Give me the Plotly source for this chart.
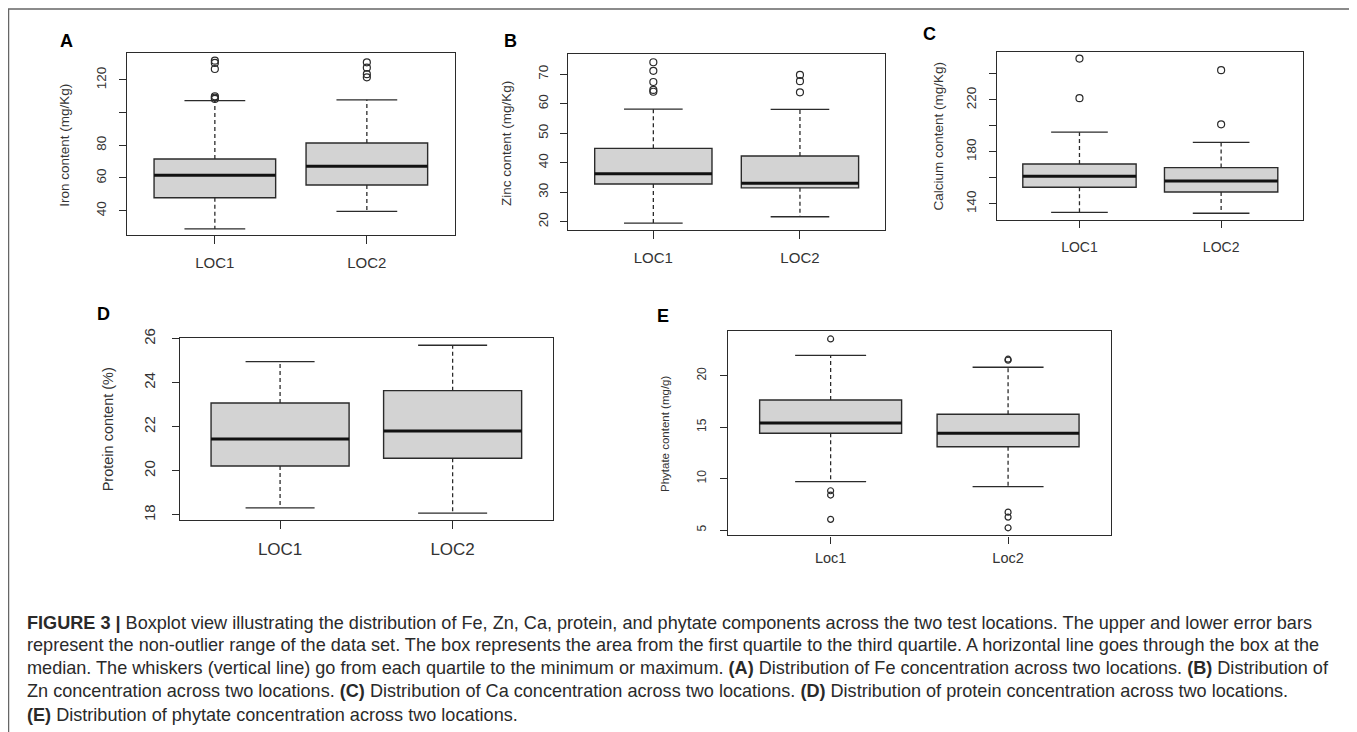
import plotly.graph_objects as go

# Screen size of the photograph, and the 8px offset the page body adds
SW, SH = 1357, 732
OX, OY = 8, 8
W, H = SW - OX, SH - OY

# ---------------- data ----------------
loc_upper = ["LOC1", "LOC2"]
loc_lower = ["Loc1", "Loc2"]

# A: Iron content (mg/Kg)
fe_q1 = [47.9, 55.7]
fe_med = [61.6, 67.1]
fe_q3 = [71.6, 81.4]
fe_lo = [28.8, 39.6]
fe_hi = [107.3, 107.8]
fe_out_loc1 = [131.8, 130.4, 126.7, 110.0, 109.2, 108.4]
fe_out_loc2 = [130.8, 127.5, 123.5, 121.6]

# B: Zinc content (mg/Kg)
zn_q1 = [32.8, 31.5]
zn_med = [36.3, 33.1]
zn_q3 = [44.9, 42.3]
zn_lo = [19.5, 21.7]
zn_hi = [58.2, 58.1]
zn_out_loc1 = [74.1, 71.2, 67.4, 64.7, 64.1]
zn_out_loc2 = [69.8, 67.7, 63.9]

# C: Calcium content (mg/Kg)
ca_q1 = [152.6, 149.0]
ca_med = [161.1, 157.5]
ca_q3 = [170.6, 167.8]
ca_lo = [133.3, 132.6]
ca_hi = [195.1, 187.3]
ca_out_loc1 = [251.9, 221.3]
ca_out_loc2 = [242.9, 201.2]

# D: Protein content (%)
pr_q1 = [20.22, 20.57]
pr_med = [21.45, 21.81]
pr_q3 = [23.08, 23.64]
pr_lo = [18.32, 18.08]
pr_hi = [24.96, 25.70]
pr_out_loc1 = []
pr_out_loc2 = []

# E: Phytate content (mg/g)
ph_q1 = [14.4, 13.1]
ph_med = [15.4, 14.4]
ph_q3 = [17.64, 16.25]
ph_lo = [9.7, 9.21]
ph_hi = [21.98, 20.82]
ph_out_loc1 = [23.57, 8.82, 8.4, 6.04]
ph_out_loc2 = [21.5, 21.6, 6.74, 6.26, 5.22]

# axis ticks
fe_ticks = [40, 60, 80, 100, 120]
fe_ticktext = ["40", "60", "80", "", "120"]
zn_ticks = [20, 30, 40, 50, 60, 70]
zn_ticktext = ["20", "30", "40", "50", "60", "70"]
ca_ticks = [140, 160, 180, 200, 220, 240]
ca_ticktext = ["140", "", "180", "", "220", ""]
pr_ticks = [18, 20, 22, 24, 26]
pr_ticktext = ["18", "20", "22", "24", "26"]
ph_ticks = [5, 10, 15, 20]
ph_ticktext = ["5", "10", "15", "20"]


# ---------------- layout helpers (screen pixel -> paper) ----------------
def px_x(v):
    return (v - OX) / W


def px_y(v):
    return 1 - (v - OY) / H


LINE = "#2b2b2b"
TXT = "#333333"
FILL = "#d3d3d3"
FONT = "Liberation Sans, Arial, sans-serif"

panels = [
    dict(key="", q1=fe_q1, med=fe_med, q3=fe_q3, lo=fe_lo, hi=fe_hi,
         outs=[fe_out_loc1, fe_out_loc2], labels=loc_upper,
         box=(126.7, 455.0, 53.3, 235.0), yr=[25.1, 136.3],
         tv=fe_ticks, tt=fe_ticktext, yfs=13.5, xfs=15, tlx=8, tly=7,
         ystand=7, xstand=6, ms=7),
    dict(key="2", q1=zn_q1, med=zn_med, q3=zn_q3, lo=zn_lo, hi=zn_hi,
         outs=[zn_out_loc1, zn_out_loc2], labels=loc_upper,
         box=(568.3, 885.0, 54.3, 230.0), yr=[17.2, 76.8],
         tv=zn_ticks, tt=zn_ticktext, yfs=13.5, xfs=15, tlx=8, tly=7,
         ystand=7, xstand=6, ms=7),
    dict(key="3", q1=ca_q1, med=ca_med, q3=ca_q3, lo=ca_lo, hi=ca_hi,
         outs=[ca_out_loc1, ca_out_loc2], labels=loc_upper,
         box=(997.3, 1303.3, 52.3, 220.0), yr=[127.4, 256.7],
         tv=ca_ticks, tt=ca_ticktext, yfs=13.5, xfs=14, tlx=7, tly=7,
         ystand=8, xstand=7, ms=7),
    dict(key="4", q1=pr_q1, med=pr_med, q3=pr_q3, lo=pr_lo, hi=pr_hi,
         outs=[pr_out_loc1, pr_out_loc2], labels=loc_upper,
         box=(180.0, 552.7, 338.0, 520.0), yr=[17.77, 26.03],
         tv=pr_ticks, tt=pr_ticktext, yfs=15, xfs=17, tlx=8, tly=7,
         ystand=11, xstand=5, ms=7),
    dict(key="5", q1=ph_q1, med=ph_med, q3=ph_q3, lo=ph_lo, hi=ph_hi,
         outs=[ph_out_loc1, ph_out_loc2], labels=loc_lower,
         box=(727.7, 1111.0, 330.7, 535.3), yr=[4.49, 24.37],
         tv=ph_ticks, tt=ph_ticktext, yfs=12, xfs=14.5, tlx=7, tly=7,
         ystand=9, xstand=2, ms=6),
]

BOX_HALF = 0.4
STAPLE_HALF = 0.2

fig = go.Figure()
layout_axes = {}

for p in panels:
    k = p["key"]
    xa, ya = "x" + k, "y" + k
    for i in range(2):
        xc = i + 1
        fig.add_trace(go.Box(
            x=[xc], q1=[p["q1"][i]], median=[p["med"][i]], q3=[p["q3"][i]],
            lowerfence=[p["q1"][i]], upperfence=[p["q3"][i]],
            width=2 * BOX_HALF, whiskerwidth=0, boxpoints=False,
            fillcolor=FILL, line=dict(color=LINE, width=1.4),
            xaxis=xa, yaxis=ya, showlegend=False, hoverinfo="skip"))
        # whiskers (dashed)
        fig.add_trace(go.Scatter(
            x=[xc, xc, None, xc, xc],
            y=[p["q3"][i], p["hi"][i], None, p["q1"][i], p["lo"][i]],
            mode="lines", line=dict(color=LINE, width=1.3, dash="4px,3px"),
            xaxis=xa, yaxis=ya, showlegend=False, hoverinfo="skip"))
        # staples
        fig.add_trace(go.Scatter(
            x=[xc - STAPLE_HALF, xc + STAPLE_HALF, None, xc - STAPLE_HALF, xc + STAPLE_HALF],
            y=[p["hi"][i], p["hi"][i], None, p["lo"][i], p["lo"][i]],
            mode="lines", line=dict(color=LINE, width=1.3),
            xaxis=xa, yaxis=ya, showlegend=False, hoverinfo="skip"))
        # median (thick)
        fig.add_trace(go.Scatter(
            x=[xc - BOX_HALF, xc + BOX_HALF], y=[p["med"][i], p["med"][i]],
            mode="lines", line=dict(color="#111111", width=3),
            xaxis=xa, yaxis=ya, showlegend=False, hoverinfo="skip"))
        # outliers
        outs = p["outs"][i]
        if outs:
            fig.add_trace(go.Scatter(
                x=[xc] * len(outs), y=outs, mode="markers",
                marker=dict(symbol="circle-open", size=p["ms"], color=LINE,
                            line=dict(width=1.2, color=LINE)),
                xaxis=xa, yaxis=ya, showlegend=False, hoverinfo="skip"))

    x0, x1, y0, y1 = p["box"]
    axis_common = dict(showline=True, mirror=True, linecolor=LINE, linewidth=1.4,
                       showgrid=False, zeroline=False, ticks="outside",
                       tickcolor=LINE, tickwidth=1.3, fixedrange=True,
                       automargin=False)
    layout_axes["xaxis" + k] = dict(
        axis_common, domain=[px_x(x0), px_x(x1)], range=[0.42, 2.58],
        tickmode="array", tickvals=[1, 2], ticktext=p["labels"],
        ticklen=p["tlx"], anchor=ya,
        tickfont=dict(family=FONT, size=p["xfs"], color=TXT),
        ticklabelstandoff=p["xstand"])
    layout_axes["yaxis" + k] = dict(
        axis_common, domain=[px_y(y1), px_y(y0)], range=p["yr"],
        tickmode="array", tickvals=p["tv"], ticktext=p["tt"], tickangle=-90,
        ticklen=p["tly"], anchor=xa,
        tickfont=dict(family=FONT, size=p["yfs"], color=TXT),
        ticklabelstandoff=p["ystand"])

annotations = []

# panel letters
letters = [("A", 66.7, 41.0), ("B", 510.0, 41.0), ("C", 929.3, 34.0),
           ("D", 103.3, 314.0), ("E", 662.7, 315.7)]
for t, x, y in letters:
    annotations.append(dict(text="<b>%s</b>" % t, x=px_x(x), y=px_y(y), xref="paper",
                            yref="paper", showarrow=False, xanchor="center",
                            yanchor="middle", font=dict(family=FONT, size=18, color="#000")))

# y-axis titles
ytitles = [("Iron content (mg/Kg)", 65.0, 145.7, 13.5),
           ("Zinc content (mg/Kg)", 506.7, 143.3, 13.5),
           ("Calcium content (mg/Kg)", 938.3, 136.3, 13.5),
           ("Protein content (%)", 108.3, 429.0, 14.5),
           ("Phytate content (mg/g)", 665.7, 433.3, 11.5)]
for t, x, y, fs in ytitles:
    annotations.append(dict(text=t, x=px_x(x), y=px_y(y), xref="paper", yref="paper",
                            showarrow=False, textangle=-90, xanchor="center",
                            yanchor="middle", font=dict(family=FONT, size=fs, color=TXT)))

# caption
caption_lines = [
    "<b>FIGURE 3 |</b> Boxplot view illustrating the distribution of Fe, Zn, Ca, protein, and phytate components across the two test locations. The upper and lower error bars",
    "represent the non-outlier range of the data set. The box represents the area from the first quartile to the third quartile. A horizontal line goes through the box at the",
    "median. The whiskers (vertical line) go from each quartile to the minimum or maximum. <b>(A)</b> Distribution of Fe concentration across two locations. <b>(B)</b> Distribution of",
    "Zn concentration across two locations. <b>(C)</b> Distribution of Ca concentration across two locations. <b>(D)</b> Distribution of protein concentration across two locations.",
    "<b>(E)</b> Distribution of phytate concentration across two locations.",
]
caption_y = [622.7, 645.0, 667.8, 691.0, 714.5]
for t, y in zip(caption_lines, caption_y):
    annotations.append(dict(text=t, x=px_x(25), y=px_y(y), xref="paper", yref="paper",
                            showarrow=False, xanchor="left", yanchor="middle",
                            font=dict(family=FONT, size=18.1, color="#2a2a2a")))

fig.update_layout(
    template="none",
    width=W, height=H, margin=dict(l=0, r=0, t=0, b=0, pad=0), autosize=False,
    paper_bgcolor="white", plot_bgcolor="white", showlegend=False,
    annotations=annotations,
    shapes=[dict(type="rect", xref="paper", yref="paper",
                 x0=px_x(8.5), x1=px_x(1355), y0=-0.05, y1=px_y(9),
                 line=dict(color="#666666", width=1.5), fillcolor="rgba(0,0,0,0)",
                 layer="below")],
    **layout_axes,
)

fig.write_html("out.html", config={"displayModeBar": False})
